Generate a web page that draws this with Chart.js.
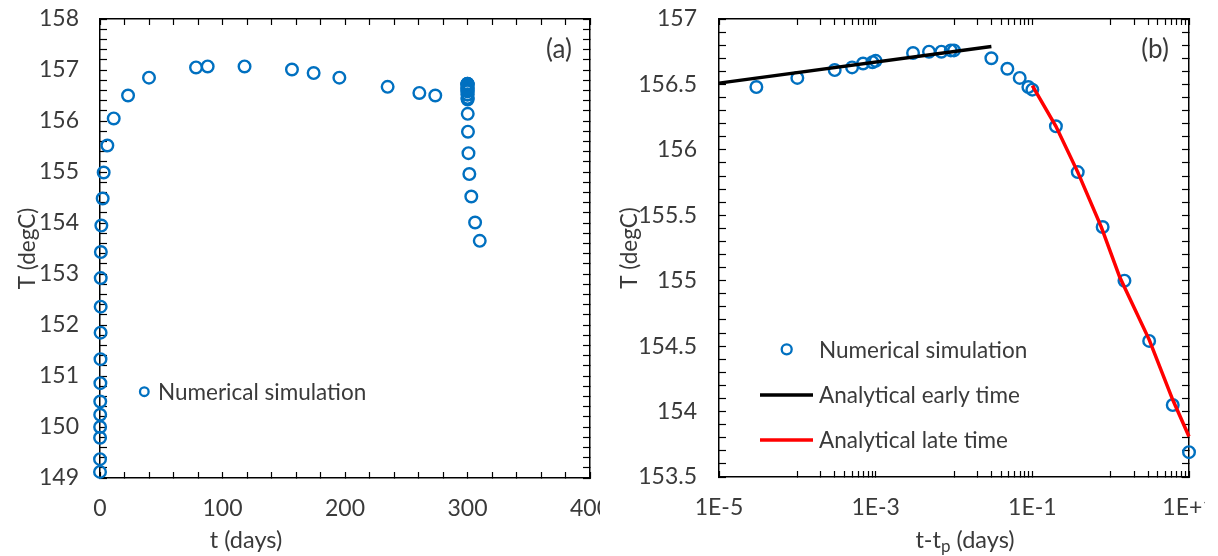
<!DOCTYPE html>
<html>
<head>
<meta charset="utf-8">
<script src="https://cdn.jsdelivr.net/npm/chart.js@4.4.1/dist/chart.umd.min.js"></script>
<style>
  body { margin: 0; background: #fff; }
  canvas { position: absolute; top: 0; }
  #chartA { left: 0; }
  #chartB { left: 600px; }
</style>
</head>
<body>
<canvas id="chartA" width="600" height="556"></canvas>
<canvas id="chartB" width="605" height="556"></canvas>
<script>
// ---- panel (a): temperature vs time ----
const tA = [0.01, 0.03, 0.06, 0.1, 0.15, 0.2, 0.3, 0.4, 0.5, 0.55, 0.6, 0.7, 1.1, 2.2, 3.0, 6.0,
            11.2, 22.9, 40.0, 78.4, 87.9, 118.0, 156.7, 174.4, 195.4, 234.8, 260.7, 273.7,
            300.0, 300.0, 300.0, 300.0, 300.0, 300.0, 300.0, 300.0, 300.0, 300.0, 300.0, 300.01,
            300.03, 300.05, 300.07, 300.09, 300.1, 300.2, 300.38, 300.79, 301.5, 303.1, 306.2, 310.0];
const TA = [149.12, 149.37, 149.79, 150.0, 150.24, 150.5, 150.86, 151.33, 151.85, 152.36, 152.92, 153.43,
            153.95, 154.48, 154.99, 155.52, 156.05, 156.5, 156.85, 157.05, 157.07, 157.07, 157.01,
            156.94, 156.85, 156.67, 156.55, 156.5,
            156.45, 156.52, 156.58, 156.6, 156.63, 156.64, 156.65, 156.7, 156.72, 156.72, 156.73, 156.73,
            156.67, 156.59, 156.52, 156.45, 156.42, 156.14, 155.79, 155.37, 154.96, 154.52, 154.01, 153.65];

// ---- panel (b): temperature vs t - tp ----
const dtB = [3.0e-5, 1.0e-4, 3.0e-4, 5.0e-4, 6.9e-4, 9.1e-4, 1.0e-3, 3.0e-3, 4.8e-3, 6.9e-3, 9.1e-3, 1.0e-2,
             3.0e-2, 4.8e-2, 6.9e-2, 8.9e-2, 0.1, 0.2, 0.38, 0.79, 1.5, 3.1, 6.2, 10];
const TB = [156.48, 156.55, 156.61, 156.63, 156.66, 156.67, 156.68, 156.74, 156.75, 156.75, 156.76, 156.76,
            156.70, 156.62, 156.55, 156.48, 156.46, 156.18, 155.83, 155.41, 155.0, 154.54, 154.05, 153.69];
const earlyX = [1e-5, 0.03];
const earlyT = [156.51, 156.79];
const lateX = [0.1, 0.2, 0.38, 0.76, 1.3, 3.1, 6.2, 10];
const lateT = [156.49, 156.18, 155.83, 155.41, 155.03, 154.55, 154.09, 153.81];

// ---- tick labels ----
const xLabelsA = [0, 100, 200, 300, 400];
const yLabelsA = [149, 150, 151, 152, 153, 154, 155, 156, 157, 158];
const xTicksB = [1e-5, 1e-3, 1e-1, 10];
const xTickTextB = ['1E-5', '1E-3', '1E-1', '1E+1'];
const yLabelsB = [153.5, 154, 154.5, 155, 155.5, 156, 156.5, 157];

const BLUE = '#0070C0';
const TXT = '#3a3a3a';
Chart.defaults.font.family = 'Lato';
Chart.defaults.color = TXT;

function near(a, b) { return Math.abs(a - b) < 1e-6; }

function stepTicks(from, to, step) {
  const out = [];
  const n = Math.round((to - from) / step);
  for (let i = 0; i <= n; i++) out.push({ value: from + i * step });
  return out;
}

function logTicks() {
  const out = [{ value: 1e-5 }];
  [-4, -2, 0].forEach(e => {
    for (let m = 1; m <= 9; m++) out.push({ value: m * Math.pow(10, e) });
    out.push({ value: Math.pow(10, e + 1) });
  });
  return out;
}

function axis(opts) {
  const base = {
    grid: { drawOnChartArea: false, drawTicks: true, tickLength: opts.tl, color: '#000', tickColor: '#000', tickWidth: 1.2 },
    border: { display: true, color: '#000', width: 1.5 },
    ticks: { autoSkip: false, maxRotation: 0, padding: opts.pad || 0, color: TXT, font: { size: 23 },
             display: opts.labels !== false, callback: opts.cb }
  };
  return Object.assign(base, opts.extra);
}

const legendPlugin = {
  id: 'legendItems',
  afterDraw(chart, args, o) {
    const ctx = chart.ctx;
    ctx.save();
    ctx.font = '22.5px Lato';
    ctx.fillStyle = TXT;
    ctx.textBaseline = 'middle';
    ctx.textAlign = 'left';
    (o.items || []).forEach(it => {
      if (it.kind === 'marker') {
        ctx.beginPath();
        ctx.arc(it.mx, it.y, it.r, 0, Math.PI * 2);
        ctx.strokeStyle = BLUE; ctx.lineWidth = 2.3; ctx.stroke();
      } else {
        ctx.beginPath();
        ctx.moveTo(it.x1, it.y); ctx.lineTo(it.x2, it.y);
        ctx.strokeStyle = it.color; ctx.lineWidth = 3.5; ctx.stroke();
      }
      ctx.fillStyle = TXT;
      ctx.fillText(it.text, it.tx, it.y + 1);
    });
    // panel letter
    ctx.font = '26px Lato';
    ctx.textAlign = 'center';
    ctx.fillText(o.panel.text, o.panel.x, o.panel.y);
    // x axis title (drawn here so the subscript can be set), centred on xTitle.cx
    ctx.textAlign = 'left';
    ctx.textBaseline = 'alphabetic';
    const fontOf = p => (p.sub ? '17px' : '23.5px') + ' Lato';
    let w = 0;
    o.xTitle.parts.forEach(p => { ctx.font = fontOf(p); w += ctx.measureText(p.t).width; });
    let x = o.xTitle.cx - w / 2;
    o.xTitle.parts.forEach(p => {
      ctx.font = fontOf(p);
      ctx.fillText(p.t, x, o.xTitle.y + (p.sub ? 4 : 0));
      x += ctx.measureText(p.t).width;
    });
    ctx.restore();
  }
};

// ---------------- chart (a) ----------------
new Chart(document.getElementById('chartA'), {
  type: 'scatter',
  data: {
    datasets: [{
      label: 'Numerical simulation',
      data: tA.map((t, i) => ({ x: t, y: TA[i] })),
      pointRadius: 5.8, pointHoverRadius: 5.8, pointBorderWidth: 2.4,
      borderColor: BLUE, backgroundColor: 'rgba(0,0,0,0)', showLine: false, clip: false
    }]
  },
  options: {
    responsive: false, animation: false, events: [],
    layout: { padding: { left: 0, top: 19, right: 10, bottom: 0 } },
    plugins: {
      legend: { display: false }, tooltip: { enabled: false },
      legendItems: {
        items: [{ kind: 'marker', mx: 144.3, r: 4.3, y: 391.7, tx: 158, text: 'Numerical simulation' }],
        panel: { text: '(a)', x: 559, y: 50 },
        xTitle: { cx: 246, y: 548, parts: [{ t: 't (days)' }] }
      }
    },
    scales: {
      x: axis({ tl: -6, pad: 23,
        cb: v => xLabelsA.some(l => near(l, v)) ? String(v) : '',
        extra: { type: 'linear', position: 'bottom', min: 0, max: 400,
          afterBuildTicks: s => { s.ticks = stepTicks(0, 400, 20); },
          afterFit: s => { s.height = 78; s.paddingLeft = 0; s.paddingRight = 0; } } }),
      x2: axis({ tl: -6, labels: false,
        extra: { type: 'linear', position: 'top', min: 0, max: 400,
          afterBuildTicks: s => { s.ticks = stepTicks(0, 400, 20); },
          afterFit: s => { s.height = 0; s.paddingLeft = 0; s.paddingRight = 0; } } }),
      y: axis({ tl: -7, pad: 28,
        cb: v => yLabelsA.some(l => near(l, v)) ? String(Math.round(v)) : '',
        extra: { type: 'linear', position: 'left', min: 149, max: 158,
          afterBuildTicks: s => { s.ticks = stepTicks(149, 158, 0.2); },
          afterFit: s => { s.width = 100; s.paddingTop = 0; s.paddingBottom = 0; },
          title: { display: true, text: 'T (degC)', color: TXT, font: { size: 22.5 }, padding: { top: 14.5 } } } }),
      y2: axis({ tl: -7, labels: false,
        extra: { type: 'linear', position: 'right', min: 149, max: 158,
          afterBuildTicks: s => { s.ticks = stepTicks(149, 158, 0.2); },
          afterFit: s => { s.width = 0; s.paddingTop = 0; s.paddingBottom = 0; } } })
    }
  },
  plugins: [legendPlugin]
});

// ---------------- chart (b) ----------------
new Chart(document.getElementById('chartB'), {
  type: 'scatter',
  data: {
    datasets: [{
      label: 'Analytical late time',
      data: lateX.map((x, i) => ({ x: x, y: lateT[i] })),
      showLine: true, borderColor: '#FF0000', borderWidth: 3.5, pointRadius: 0, clip: false
    }, {
      label: 'Analytical early time',
      data: earlyX.map((x, i) => ({ x: x, y: earlyT[i] })),
      showLine: true, borderColor: '#000000', borderWidth: 3.5, pointRadius: 0, clip: false
    }, {
      label: 'Numerical simulation',
      data: dtB.map((x, i) => ({ x: x, y: TB[i] })),
      pointRadius: 5.8, pointHoverRadius: 5.8, pointBorderWidth: 2.4,
      borderColor: BLUE, backgroundColor: 'rgba(0,0,0,0)', showLine: false, clip: false
    }]
  },
  options: {
    responsive: false, animation: false, events: [],
    layout: { padding: { left: 0, top: 19, right: 16, bottom: 0 } },
    plugins: {
      legend: { display: false }, tooltip: { enabled: false },
      legendItems: {
        items: [
          { kind: 'marker', mx: 186.7, r: 5, y: 349.3, tx: 219, text: 'Numerical simulation' },
          { kind: 'line', x1: 160, x2: 213, color: '#000000', y: 395, tx: 219, text: 'Analytical early time' },
          { kind: 'line', x1: 160, x2: 213, color: '#FF0000', y: 440, tx: 219, text: 'Analytical late time' }
        ],
        panel: { text: '(b)', x: 555, y: 50 },
        xTitle: { cx: 365, y: 548, parts: [{ t: 't-t' }, { t: 'p', sub: true }, { t: ' (days)' }] }
      }
    },
    scales: {
      x: axis({ tl: -6, pad: 23,
        cb: v => { const k = xTicksB.findIndex(l => Math.abs(Math.log10(l) - Math.log10(v)) < 1e-6); return k >= 0 ? xTickTextB[k] : ''; },
        extra: { type: 'logarithmic', position: 'bottom', min: 1e-5, max: 10,
          afterBuildTicks: s => { s.ticks = logTicks(); },
          afterFit: s => { s.height = 79; s.paddingLeft = 0; s.paddingRight = 0; } } }),
      x2: axis({ tl: -6, labels: false,
        extra: { type: 'logarithmic', position: 'top', min: 1e-5, max: 10,
          afterBuildTicks: s => { s.ticks = logTicks(); },
          afterFit: s => { s.height = 0; s.paddingLeft = 0; s.paddingRight = 0; } } }),
      y: axis({ tl: -7, pad: 29,
        cb: v => yLabelsB.some(l => near(l, v)) ? String(Math.round(v * 10) / 10) : '',
        extra: { type: 'linear', position: 'left', min: 153.5, max: 157,
          afterBuildTicks: s => { s.ticks = stepTicks(153.5, 157, 0.1); },
          afterFit: s => { s.width = 119; s.paddingTop = 0; s.paddingBottom = 0; },
          title: { display: true, text: 'T (degC)', color: TXT, font: { size: 22.5 }, padding: { top: 16.5 } } } }),
      y2: axis({ tl: -7, labels: false,
        extra: { type: 'linear', position: 'right', min: 153.5, max: 157,
          afterBuildTicks: s => { s.ticks = stepTicks(153.5, 157, 0.1); },
          afterFit: s => { s.width = 0; s.paddingTop = 0; s.paddingBottom = 0; } } })
    }
  },
  plugins: [legendPlugin]
});
</script>
</body>
</html>
